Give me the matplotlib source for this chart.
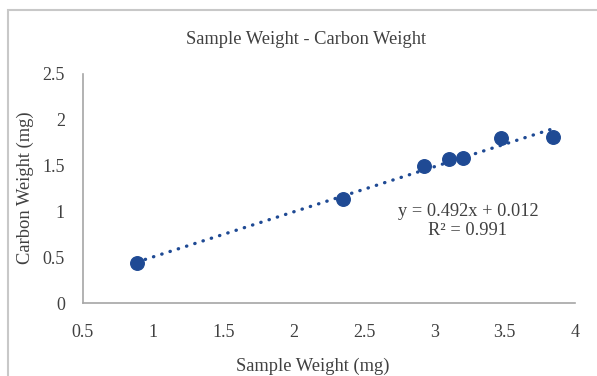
import matplotlib.pyplot as plt
import matplotlib.patches as patches
import numpy as np

# --------------------------------------------------------------
# Data
sample_weight = [0.884, 2.349, 2.927, 3.103, 3.200, 3.473, 3.845]
carbon_weight = [0.437, 1.135, 1.499, 1.572, 1.586, 1.805, 1.816]
slope = 0.492
intercept = 0.012
r_squared = 0.991

# --------------------------------------------------------------
# Settings
plt.rcParams['font.family'] = ['Liberation Serif', 'DejaVu Serif']
blue = '#1F4A94'
gray = '#A6A6A6'
txt = '#404040'

fig = plt.figure(figsize=(5.97, 3.76), dpi=100)

# chart border (cut at right/bottom like the reference)
fig.patches.append(patches.Rectangle((8 / 597, -0.1), 1.2, 1 - 10 / 376 + 0.1,
                                     transform=fig.transFigure, fill=False,
                                     edgecolor='#C8C8C8', linewidth=1.5))

ax = fig.add_axes([83 / 597, 1 - 303 / 376, (575 - 83) / 597, (303 - 74) / 376])

ax.scatter(sample_weight, carbon_weight, s=95, color=blue, zorder=3)

# linear trendline
xs = np.array([min(sample_weight), max(sample_weight)])
ax.plot(xs, slope * xs + intercept, linestyle=(0, (0.1, 2.5)), color=blue,
        linewidth=2.4, dash_capstyle='round', zorder=2)

ax.text(3.238, 0.895, f'y = {slope}x + {intercept}\nR² = {r_squared}',
        ha='center', va='center', fontsize=13.2, color=txt, linespacing=1.2)

ax.set_xlim(0.5, 4)
ax.set_ylim(0, 2.5)
ax.set_xticks([0.5, 1, 1.5, 2, 2.5, 3, 3.5, 4])
ax.set_xticklabels(['0.5', '1', '1.5', '2', '2.5', '3', '3.5', '4'])
ax.set_yticks([0, 0.5, 1, 1.5, 2, 2.5])
ax.set_yticklabels(['0', '0.5', '1', '1.5', '2', '2.5'])
ax.tick_params(length=0, labelsize=13, labelcolor=txt)
ax.tick_params(axis='x', pad=15)
ax.tick_params(axis='y', pad=13)
for s in ['top', 'right']:
    ax.spines[s].set_visible(False)
for s in ['left', 'bottom']:
    ax.spines[s].set_color(gray)
    ax.spines[s].set_linewidth(1.2)

fig.text(306 / 597, 1 - 40 / 376, 'Sample Weight - Carbon Weight',
         ha='center', va='center', fontsize=13.3, color=txt)
fig.text(313 / 597, 1 - 366 / 376, 'Sample Weight (mg)',
         ha='center', va='center', fontsize=13.3, color=txt)
fig.text(25 / 597, 1 - 188 / 376, 'Carbon Weight (mg)', rotation=90,
         ha='center', va='center', fontsize=13.3, color=txt)

fig.savefig('out.png', dpi=100)
